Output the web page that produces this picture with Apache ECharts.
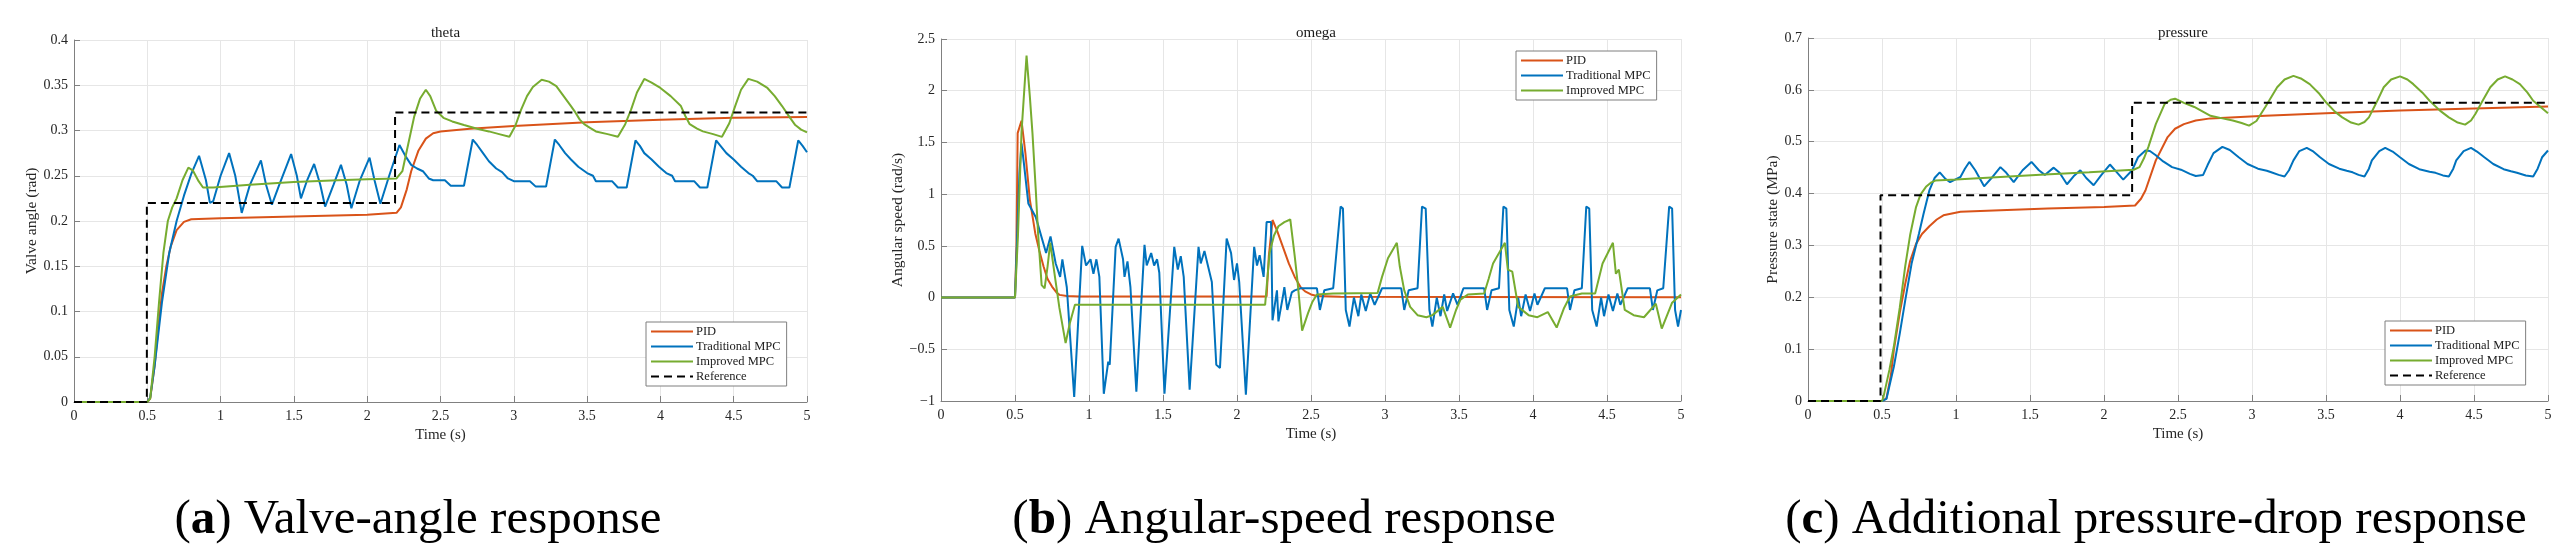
<!DOCTYPE html>
<html>
<head>
<meta charset="utf-8">
<script src="https://cdn.jsdelivr.net/npm/echarts@6/dist/echarts.min.js"></script>
<style>html,body{margin:0;padding:0;background:#fff}#c{width:2576px;height:555px}</style>
</head>
<body>
<div id="c"></div>
<script>
// ---------- DATA ----------
const seriesNames = ['PID', 'Traditional MPC', 'Improved MPC', 'Reference'];
const panelTitles = ['theta', 'omega', 'pressure'];
const yAxisNames = ['Valve angle (rad)', 'Angular speed (rad/s)', 'Pressure state (MPa)'];
const captionLetters = ['a', 'b', 'c'];
const captionTexts = [' Valve-angle response', ' Angular-speed response', ' Additional pressure-drop response'];

// theta (rad)
const thetaRef = [[0,0],[0.497,0],[0.497,0.22],[2.19,0.22],[2.19,0.32],[5,0.32]];
const thetaPID = [[0,0],[0.5,0],[0.52,0.004],[0.55,0.04],[0.58,0.09],[0.6,0.12],[0.63,0.15],[0.66,0.172],[0.7,0.19],[0.75,0.199],[0.8,0.202],[1,0.203],[1.5,0.205],[2,0.207],[2.2,0.209],[2.23,0.215],[2.27,0.235],[2.3,0.255],[2.35,0.278],[2.4,0.291],[2.45,0.297],[2.5,0.299],[2.7,0.302],[3,0.305],[3.5,0.309],[4,0.312],[4.5,0.314],[5,0.315]];
const thetaTrad = [[0,0],[0.5,0],[0.52,0.005],[0.55,0.04],[0.6,0.11],[0.65,0.165],[0.7,0.2],[0.75,0.228],[0.8,0.252],[0.853,0.272],[0.9,0.245],[0.927,0.22],[0.95,0.222],[1.0,0.25],[1.058,0.275],[1.1,0.25],[1.144,0.209],[1.2,0.24],[1.275,0.267],[1.31,0.24],[1.35,0.218],[1.4,0.24],[1.481,0.274],[1.52,0.25],[1.548,0.225],[1.59,0.245],[1.638,0.263],[1.68,0.24],[1.713,0.216],[1.77,0.24],[1.821,0.262],[1.86,0.24],[1.892,0.214],[1.95,0.245],[2.016,0.27],[2.05,0.245],[2.09,0.219],[2.15,0.25],[2.22,0.284],[2.26,0.272],[2.30,0.262],[2.34,0.258],[2.38,0.255],[2.42,0.247],[2.45,0.245],[2.53,0.245],[2.57,0.239],[2.66,0.239],[2.72,0.29],[2.75,0.284],[2.79,0.275],[2.83,0.266],[2.88,0.258],[2.92,0.254],[2.96,0.247],[3.0,0.244],[3.11,0.244],[3.15,0.238],[3.22,0.238],[3.28,0.29],[3.31,0.284],[3.35,0.275],[3.39,0.268],[3.44,0.26],[3.5,0.253],[3.54,0.25],[3.56,0.244],[3.67,0.244],[3.71,0.237],[3.77,0.237],[3.83,0.289],[3.86,0.283],[3.89,0.275],[3.94,0.268],[3.99,0.26],[4.04,0.253],[4.08,0.25],[4.10,0.244],[4.23,0.244],[4.27,0.237],[4.32,0.237],[4.38,0.289],[4.41,0.283],[4.45,0.275],[4.50,0.268],[4.55,0.26],[4.60,0.253],[4.63,0.25],[4.66,0.244],[4.79,0.244],[4.83,0.237],[4.88,0.237],[4.94,0.289],[4.97,0.283],[5.0,0.276]];
const thetaImp = [[0,0],[0.5,0],[0.52,0.004],[0.55,0.05],[0.58,0.11],[0.61,0.165],[0.64,0.2],[0.67,0.215],[0.7,0.225],[0.74,0.245],[0.78,0.259],[0.81,0.256],[0.85,0.244],[0.88,0.237],[0.95,0.237],[1.2,0.24],[1.5,0.243],[1.8,0.245],[2.0,0.246],[2.2,0.247],[2.24,0.255],[2.28,0.285],[2.32,0.315],[2.36,0.335],[2.40,0.345],[2.43,0.338],[2.47,0.322],[2.52,0.314],[2.58,0.310],[2.66,0.306],[2.75,0.302],[2.83,0.299],[2.9,0.296],[2.97,0.293],[3.01,0.305],[3.05,0.323],[3.09,0.338],[3.13,0.348],[3.19,0.356],[3.24,0.354],[3.29,0.349],[3.34,0.338],[3.39,0.327],[3.42,0.32],[3.45,0.312],[3.48,0.307],[3.52,0.303],[3.56,0.299],[3.64,0.296],[3.71,0.293],[3.76,0.307],[3.80,0.323],[3.84,0.342],[3.89,0.357],[3.94,0.353],[4.0,0.347],[4.07,0.338],[4.14,0.327],[4.17,0.316],[4.20,0.307],[4.25,0.302],[4.29,0.299],[4.36,0.296],[4.42,0.293],[4.47,0.308],[4.51,0.327],[4.55,0.345],[4.60,0.357],[4.66,0.354],[4.73,0.347],[4.78,0.338],[4.83,0.327],[4.88,0.315],[4.92,0.306],[4.96,0.301],[5.0,0.298]];

// omega (rad/s)
const omegaPID = [[0,0],[0.5,0],[0.51,0.5],[0.518,1.59],[0.544,1.71],[0.57,1.4],[0.6,0.95],[0.637,0.62],[0.665,0.45],[0.693,0.30],[0.72,0.18],[0.75,0.106],[0.78,0.05],[0.80,0.026],[0.85,0.015],[0.935,0.01],[1.5,0.01],[2.2,0.01],[2.215,0.4],[2.24,0.75],[2.27,0.65],[2.31,0.49],[2.35,0.33],[2.39,0.2],[2.43,0.1],[2.46,0.06],[2.5,0.03],[2.54,0.016],[2.7,0.008],[3.5,0.005],[5,0.004]];
const omegaTrad = [[0,0],[0.5,0],[0.51,0.4],[0.53,1.2],[0.544,1.49],[0.56,1.3],[0.59,0.91],[0.64,0.78],[0.71,0.43],[0.74,0.59],[0.775,0.33],[0.805,0.2],[0.82,0.37],[0.85,0.1],[0.90,-0.96],[0.954,0.5],[0.98,0.31],[1.01,0.37],[1.03,0.23],[1.05,0.37],[1.07,0.2],[1.10,-0.93],[1.13,-0.62],[1.14,-0.65],[1.18,0.49],[1.20,0.57],[1.23,0.37],[1.24,0.2],[1.26,0.35],[1.28,0.1],[1.32,-0.91],[1.375,0.51],[1.39,0.31],[1.42,0.43],[1.44,0.31],[1.46,0.37],[1.475,0.24],[1.51,-0.93],[1.576,0.49],[1.60,0.27],[1.62,0.40],[1.64,0.2],[1.68,-0.89],[1.74,0.49],[1.755,0.33],[1.78,0.45],[1.80,0.33],[1.83,0.15],[1.86,-0.65],[1.885,-0.68],[1.93,0.57],[1.96,0.43],[1.98,0.17],[2.0,0.33],[2.015,0.15],[2.06,-0.94],[2.116,0.49],[2.135,0.31],[2.153,0.41],[2.18,0.2],[2.20,0.73],[2.23,0.73],[2.24,-0.22],[2.27,0.07],[2.28,-0.23],[2.31,0.01],[2.32,0.1],[2.34,-0.12],[2.37,0.05],[2.39,0.07],[2.43,0.09],[2.54,0.09],[2.56,-0.12],[2.59,0.07],[2.65,0.09],[2.70,0.88],[2.716,0.86],[2.735,-0.12],[2.76,-0.28],[2.79,0.0],[2.82,-0.18],[2.84,0.03],[2.87,-0.13],[2.90,0.04],[2.93,-0.07],[2.98,0.09],[3.11,0.09],[3.13,-0.12],[3.16,0.07],[3.22,0.09],[3.25,0.88],[3.275,0.86],[3.30,-0.12],[3.32,-0.28],[3.35,0.0],[3.375,-0.18],[3.40,0.03],[3.42,-0.13],[3.46,0.04],[3.49,-0.07],[3.53,0.09],[3.67,0.09],[3.69,-0.12],[3.72,0.07],[3.77,0.09],[3.80,0.88],[3.82,0.86],[3.84,-0.12],[3.87,-0.28],[3.90,0.0],[3.92,-0.18],[3.95,0.03],[3.98,-0.13],[4.01,0.04],[4.03,-0.07],[4.08,0.09],[4.23,0.09],[4.25,-0.12],[4.28,0.07],[4.33,0.09],[4.36,0.88],[4.38,0.86],[4.40,-0.12],[4.43,-0.28],[4.46,0.0],[4.48,-0.18],[4.51,0.03],[4.54,-0.13],[4.57,0.04],[4.59,-0.07],[4.64,0.09],[4.79,0.09],[4.81,-0.12],[4.84,0.07],[4.88,0.09],[4.92,0.88],[4.94,0.86],[4.96,-0.12],[4.98,-0.28],[5.0,-0.12]];
const omegaImp = [[0,0],[0.5,0],[0.52,0.6],[0.544,1.6],[0.578,2.34],[0.6,1.95],[0.618,1.59],[0.64,1.05],[0.656,0.62],[0.68,0.12],[0.70,0.09],[0.72,0.3],[0.738,0.53],[0.77,0.2],[0.80,-0.1],[0.842,-0.44],[0.87,-0.25],[0.905,-0.07],[1.5,-0.07],[2.19,-0.07],[2.20,0.1],[2.22,0.43],[2.25,0.6],[2.28,0.69],[2.32,0.73],[2.36,0.755],[2.39,0.4],[2.41,0.14],[2.44,-0.32],[2.48,-0.15],[2.51,-0.04],[2.54,0.03],[2.65,0.04],[2.95,0.045],[2.98,0.2],[3.02,0.38],[3.08,0.53],[3.1,0.3],[3.13,0.07],[3.17,-0.09],[3.22,-0.17],[3.28,-0.19],[3.32,-0.17],[3.39,-0.09],[3.44,-0.29],[3.48,-0.12],[3.51,-0.02],[3.56,0.03],[3.67,0.04],[3.70,0.18],[3.73,0.33],[3.81,0.53],[3.83,0.27],[3.86,0.25],[3.90,-0.09],[3.97,-0.17],[4.03,-0.19],[4.10,-0.14],[4.16,-0.29],[4.21,-0.1],[4.25,0.01],[4.33,0.04],[4.42,0.04],[4.47,0.33],[4.54,0.53],[4.56,0.23],[4.58,0.27],[4.62,-0.12],[4.68,-0.17],[4.75,-0.19],[4.83,-0.06],[4.87,-0.30],[4.94,-0.05],[5.0,0.03]];

// pressure (MPa)
const presRef = [[0,0],[0.49,0],[0.49,0.397],[2.19,0.397],[2.19,0.575],[5,0.575]];
const presPID = [[0,0],[0.5,0],[0.53,0.005],[0.56,0.05],[0.58,0.098],[0.62,0.17],[0.657,0.226],[0.69,0.27],[0.73,0.303],[0.77,0.322],[0.82,0.337],[0.87,0.35],[0.915,0.358],[1.03,0.365],[1.3,0.368],[1.62,0.371],[2.0,0.374],[2.21,0.377],[2.25,0.39],[2.28,0.406],[2.35,0.464],[2.43,0.509],[2.48,0.525],[2.54,0.534],[2.62,0.541],[2.72,0.545],[3.09,0.55],[3.5,0.555],[4,0.56],[4.5,0.564],[5,0.568]];
const presTrad = [[0,0],[0.5,0],[0.53,0.004],[0.58,0.066],[0.62,0.13],[0.657,0.194],[0.7,0.265],[0.75,0.323],[0.78,0.36],[0.82,0.406],[0.855,0.43],[0.89,0.441],[0.93,0.428],[0.96,0.422],[1.0,0.428],[1.03,0.432],[1.06,0.448],[1.09,0.461],[1.13,0.445],[1.19,0.414],[1.24,0.43],[1.30,0.451],[1.34,0.44],[1.39,0.422],[1.45,0.445],[1.51,0.461],[1.56,0.445],[1.60,0.436],[1.66,0.45],[1.70,0.44],[1.75,0.418],[1.80,0.435],[1.84,0.445],[1.88,0.43],[1.93,0.416],[1.98,0.435],[2.04,0.456],[2.09,0.44],[2.13,0.427],[2.19,0.445],[2.23,0.47],[2.28,0.483],[2.31,0.482],[2.35,0.474],[2.40,0.462],[2.46,0.451],[2.52,0.446],[2.58,0.438],[2.62,0.434],[2.67,0.436],[2.70,0.455],[2.74,0.478],[2.80,0.49],[2.85,0.484],[2.91,0.47],[2.97,0.457],[3.04,0.448],[3.10,0.444],[3.13,0.441],[3.18,0.436],[3.22,0.433],[3.25,0.445],[3.28,0.464],[3.32,0.482],[3.37,0.488],[3.41,0.482],[3.46,0.47],[3.52,0.457],[3.59,0.448],[3.64,0.444],[3.68,0.441],[3.72,0.436],[3.76,0.433],[3.79,0.448],[3.81,0.464],[3.86,0.482],[3.90,0.488],[3.95,0.481],[4.0,0.47],[4.06,0.457],[4.13,0.447],[4.20,0.442],[4.24,0.44],[4.29,0.435],[4.33,0.433],[4.36,0.448],[4.38,0.464],[4.43,0.482],[4.48,0.488],[4.52,0.481],[4.57,0.47],[4.63,0.457],[4.70,0.447],[4.75,0.443],[4.79,0.44],[4.85,0.435],[4.90,0.433],[4.93,0.448],[4.96,0.47],[5.0,0.483]];
const presImp = [[0,0],[0.5,0],[0.51,0.008],[0.55,0.06],[0.58,0.105],[0.62,0.18],[0.657,0.26],[0.69,0.32],[0.73,0.374],[0.76,0.398],[0.797,0.413],[0.83,0.421],[0.86,0.425],[1.0,0.427],[1.3,0.432],[1.6,0.437],[1.9,0.441],[2.2,0.446],[2.24,0.451],[2.27,0.468],[2.30,0.49],[2.35,0.534],[2.41,0.573],[2.45,0.581],[2.48,0.583],[2.54,0.575],[2.61,0.567],[2.72,0.55],[2.8,0.545],[2.87,0.541],[2.93,0.536],[2.98,0.531],[3.03,0.54],[3.09,0.567],[3.17,0.605],[3.22,0.62],[3.28,0.627],[3.33,0.622],[3.39,0.611],[3.45,0.594],[3.50,0.576],[3.56,0.558],[3.61,0.547],[3.67,0.537],[3.72,0.533],[3.76,0.538],[3.79,0.547],[3.84,0.575],[3.89,0.605],[3.94,0.62],[4.0,0.626],[4.05,0.62],[4.09,0.611],[4.15,0.595],[4.20,0.579],[4.27,0.56],[4.33,0.547],[4.39,0.537],[4.44,0.533],[4.48,0.541],[4.51,0.554],[4.56,0.58],[4.61,0.605],[4.66,0.62],[4.71,0.626],[4.76,0.62],[4.81,0.611],[4.86,0.595],[4.90,0.579],[4.95,0.567],[5.0,0.555]];

// axis ranges
const xRange = {min: 0, max: 5, interval: 0.5};
const yRanges = [{min: 0, max: 0.4, interval: 0.05}, {min: -1, max: 2.5, interval: 0.5}, {min: 0, max: 0.7, interval: 0.1}];

// ---------- LAYOUT / STYLE ----------
const FONT = 'Liberation Serif';
const colors = {PID: '#D95319', 'Traditional MPC': '#0072BD', 'Improved MPC': '#77AC30', Reference: '#000000'};
const grids = [
  {left: 74, width: 733, top: 40, height: 362},
  {left: 941, width: 740, top: 39, height: 362},
  {left: 1808, width: 740, top: 38, height: 363}
];
const yNameGaps = [34, 30, 27];
const legendPos = [
  {left: 646, top: 322},
  {left: 1516, top: 51},
  {left: 2385, top: 321}
];
const captionX = [418, 1284, 2156];

const panelData = [
  {PID: thetaPID, 'Traditional MPC': thetaTrad, 'Improved MPC': thetaImp, Reference: thetaRef},
  {PID: omegaPID, 'Traditional MPC': omegaTrad, 'Improved MPC': omegaImp},
  {PID: presPID, 'Traditional MPC': presTrad, 'Improved MPC': presImp, Reference: presRef}
];

const fmt = v => {
  let s = String(Math.round(v * 1000) / 1000);
  return s.replace('-', '\u2212');
};

const option = {
  backgroundColor: '#fff',
  animation: false,
  title: [], grid: [], xAxis: [], yAxis: [], legend: [], series: [], graphic: []
};

grids.forEach((g, i) => {
  option.grid.push(g);
  option.title.push({
    text: panelTitles[i], left: g.left + g.width / 2, top: 21, textAlign: 'center',
    textStyle: {fontFamily: FONT, fontSize: 15, fontWeight: 'normal', color: '#1a1a1a'}
  });
  option.xAxis.push({
    type: 'value', gridIndex: i, min: xRange.min, max: xRange.max, interval: xRange.interval,
    name: 'Time (s)', nameLocation: 'middle', nameGap: 21,
    nameTextStyle: {fontFamily: FONT, fontSize: 15, color: '#262626'},
    axisLine: {show: true, onZero: false, lineStyle: {color: '#808080', width: 1}},
    axisTick: {show: true, inside: true, length: 6, lineStyle: {color: '#808080'}},
    axisLabel: {fontFamily: FONT, fontSize: 14, color: '#262626', margin: 7, formatter: fmt},
    splitLine: {show: true, lineStyle: {color: '#e6e6e6', width: 1}}
  });
  option.yAxis.push({
    type: 'value', gridIndex: i, min: yRanges[i].min, max: yRanges[i].max, interval: yRanges[i].interval,
    name: yAxisNames[i], nameLocation: 'middle', nameGap: yNameGaps[i], nameRotate: 90,
    nameTextStyle: {fontFamily: FONT, fontSize: 15.5, color: '#262626'},
    axisLine: {show: true, onZero: false, lineStyle: {color: '#808080', width: 1}},
    axisTick: {show: true, inside: true, length: 6, lineStyle: {color: '#808080'}},
    axisLabel: {fontFamily: FONT, fontSize: 14, color: '#262626', margin: 6, formatter: fmt},
    splitLine: {show: true, lineStyle: {color: '#e6e6e6', width: 1}}
  });
  const names = seriesNames.filter(n => panelData[i][n]);
  option.legend.push({
    orient: 'vertical', left: legendPos[i].left, top: legendPos[i].top,
    data: names, itemWidth: 42, itemHeight: 13, itemGap: 2,
    padding: [3, 6, 3, 4], backgroundColor: '#fff', borderColor: '#7f7f7f', borderWidth: 1,
    itemStyle: {color: 'rgba(0,0,0,0)', borderWidth: 0, opacity: 0},
    textStyle: {fontFamily: FONT, fontSize: 12.5, color: '#1a1a1a', padding: [0, 0, 0, -2]},
    selectedMode: false
  });
  names.forEach(n => {
    option.series.push({
      name: n, type: 'line', xAxisIndex: i, yAxisIndex: i,
      data: panelData[i][n], symbol: 'none', showSymbol: false, smooth: false,
      lineStyle: {color: colors[n], width: 2, type: n === 'Reference' ? [8, 5] : 'solid'},
      itemStyle: {color: colors[n]},
      z: n === 'Reference' ? 5 : 3
    });
  });
  option.graphic.push({
    type: 'text', x: captionX[i], y: 520,
    style: {
      text: '({b|' + captionLetters[i] + '})' + captionTexts[i],
      fontFamily: FONT, fontSize: 49, fill: '#000', align: 'center', verticalAlign: 'middle',
      rich: {b: {fontFamily: FONT, fontSize: 49, fontWeight: 'bold', fill: '#000'}}
    }
  });
});

const chart = echarts.init(document.getElementById('c'), null, {renderer: 'canvas'});
chart.setOption(option);
</script>
</body>
</html>
